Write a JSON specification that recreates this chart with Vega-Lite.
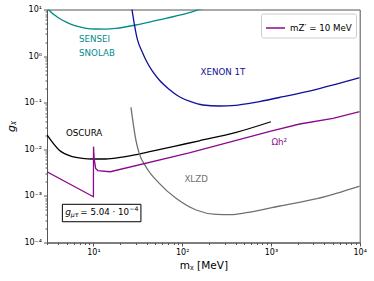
{
  "$schema": "https://vega.github.io/schema/vega-lite/v6.json",
  "width": 312.7,
  "height": 233,
  "autosize": {"type": "none"},
  "padding": {"left": 47, "top": 9.5, "right": 14.3, "bottom": 38.5},
  "config": {
    "view": {"stroke": "#555555", "strokeWidth": 1},
    "font": "DejaVu Sans",
    "axis": {"grid": false, "domainColor": "#555555", "tickColor": "#555555", "labelColor": "#000000", "titleColor": "#000000", "labelFont": "DejaVu Sans", "titleFont": "DejaVu Sans", "labelFontSize": 8, "titleFontSize": 10.5, "titleFontWeight": "normal", "labelOverlap": false, "labelFlush": false, "labelPadding": 2}
  },
  "datasets": {
    "curves": [
      {"series": "SENSEI", "m": 2.95, "g": 11.2},
      {"series": "SENSEI", "m": 3.1, "g": 10},
      {"series": "SENSEI", "m": 4.1, "g": 6.47},
      {"series": "SENSEI", "m": 5.0, "g": 5.3},
      {"series": "SENSEI", "m": 6.3, "g": 4.43},
      {"series": "SENSEI", "m": 8.0, "g": 4.0},
      {"series": "SENSEI", "m": 10.6, "g": 3.82},
      {"series": "SENSEI", "m": 13.5, "g": 3.8},
      {"series": "SENSEI", "m": 17.9, "g": 3.94},
      {"series": "SENSEI", "m": 30.1, "g": 4.65},
      {"series": "SENSEI", "m": 45, "g": 5.5},
      {"series": "SENSEI", "m": 65.8, "g": 6.47},
      {"series": "SENSEI", "m": 120, "g": 8.53},
      {"series": "SENSEI", "m": 156, "g": 10},
      {"series": "SENSEI", "m": 180, "g": 10.8},
      {"series": "XENON", "m": 26.8, "g": 12},
      {"series": "XENON", "m": 27.2, "g": 10},
      {"series": "XENON", "m": 28.8, "g": 5.06},
      {"series": "XENON", "m": 31.4, "g": 2.22},
      {"series": "XENON", "m": 35, "g": 1.3},
      {"series": "XENON", "m": 39, "g": 0.824},
      {"series": "XENON", "m": 46, "g": 0.48},
      {"series": "XENON", "m": 55.2, "g": 0.307},
      {"series": "XENON", "m": 70, "g": 0.2},
      {"series": "XENON", "m": 93, "g": 0.1345},
      {"series": "XENON", "m": 125, "g": 0.105},
      {"series": "XENON", "m": 171, "g": 0.0893},
      {"series": "XENON", "m": 263, "g": 0.085},
      {"series": "XENON", "m": 400, "g": 0.088},
      {"series": "XENON", "m": 574, "g": 0.097},
      {"series": "XENON", "m": 745, "g": 0.106},
      {"series": "XENON", "m": 1368, "g": 0.1345},
      {"series": "XENON", "m": 3258, "g": 0.194},
      {"series": "XENON", "m": 10000, "g": 0.344},
      {"series": "OSCURA", "m": 3.0, "g": 0.0203},
      {"series": "OSCURA", "m": 4.1, "g": 0.00966},
      {"series": "OSCURA", "m": 5.8, "g": 0.00694},
      {"series": "OSCURA", "m": 7.5, "g": 0.0064},
      {"series": "OSCURA", "m": 9.7, "g": 0.0062},
      {"series": "OSCURA", "m": 13.8, "g": 0.0062},
      {"series": "OSCURA", "m": 20, "g": 0.0067},
      {"series": "OSCURA", "m": 32.8, "g": 0.0079},
      {"series": "OSCURA", "m": 60, "g": 0.0102},
      {"series": "OSCURA", "m": 110, "g": 0.01315},
      {"series": "OSCURA", "m": 156, "g": 0.01524},
      {"series": "OSCURA", "m": 406, "g": 0.0231},
      {"series": "OSCURA", "m": 1000, "g": 0.039},
      {"series": "Omega", "m": 3.0, "g": 0.0033},
      {"series": "Omega", "m": 10.0, "g": 0.00096},
      {"series": "Omega", "m": 10.03, "g": 0.0114},
      {"series": "Omega", "m": 10.2, "g": 0.0062},
      {"series": "Omega", "m": 10.6, "g": 0.0039},
      {"series": "Omega", "m": 11.2, "g": 0.0035},
      {"series": "Omega", "m": 15.5, "g": 0.0033},
      {"series": "Omega", "m": 120, "g": 0.0084},
      {"series": "Omega", "m": 1000, "g": 0.0246},
      {"series": "Omega", "m": 2109, "g": 0.0349},
      {"series": "Omega", "m": 5010, "g": 0.0463},
      {"series": "Omega", "m": 10000, "g": 0.0641},
      {"series": "XLZD", "m": 26.5, "g": 0.0797},
      {"series": "XLZD", "m": 30.1, "g": 0.0158},
      {"series": "XLZD", "m": 32.8, "g": 0.0082},
      {"series": "XLZD", "m": 39, "g": 0.00423},
      {"series": "XLZD", "m": 55.2, "g": 0.00186},
      {"series": "XLZD", "m": 85.3, "g": 0.000887},
      {"series": "XLZD", "m": 143.5, "g": 0.000498},
      {"series": "XLZD", "m": 241, "g": 0.000403},
      {"series": "XLZD", "m": 350, "g": 0.000398},
      {"series": "XLZD", "m": 527, "g": 0.000436},
      {"series": "XLZD", "m": 1253, "g": 0.000607},
      {"series": "XLZD", "m": 3396, "g": 0.000887},
      {"series": "XLZD", "m": 10000, "g": 0.00163}
    ],
    "labels": [
      {"series": "SENSEI", "m": 6.9, "g": 2.3, "text": "SENSEI"},
      {"series": "SENSEI", "m": 6.9, "g": 1.15, "text": "SNOLAB"},
      {"series": "XENON", "m": 161, "g": 0.463, "text": "XENON 1T"},
      {"series": "OSCURA", "m": 4.9, "g": 0.0227, "text": "OSCURA"},
      {"series": "XLZD", "m": 106, "g": 0.00227, "text": "XLZD"},
      {"series": "Omega", "m": 1012, "g": 0.0146, "text": "Ωh²"}
    ],
    "box": [
      {"m1": 4.47, "m2": 34.3, "g1": 0.00066, "g2": 0.000279, "gc": 0.00043}
    ]
  },
  "encoding": {
    "x": {
      "field": "m", "type": "quantitative",
      "scale": {"type": "log", "domain": [3, 10000], "nice": false},
      "axis": {
        "title": "mᵪ [MeV]",
        "values": [3,4,5,6,7,8,9,10,20,30,40,50,60,70,80,90,100,200,300,400,500,600,700,800,900,1000,2000,3000,4000,5000,6000,7000,8000,9000,10000],
        "labelExpr": "datum.value==10?'10¹':datum.value==100?'10²':datum.value==1000?'10³':datum.value==10000?'10⁴':''",
        "tickSize": {"condition": {"test": "abs(log(datum.value)/LN10 - round(log(datum.value)/LN10)) < 0.001", "value": 3.5}, "value": 2},
        "titlePadding": 4
      }
    },
    "y": {
      "field": "g", "type": "quantitative",
      "scale": {"type": "log", "domain": [0.0001, 10], "nice": false},
      "axis": {
        "title": "gᵪ",
        "titleFontStyle": "italic",
        "titleFontSize": 11,
        "values": [0.0001,0.0002,0.0003,0.0004,0.0005,0.0006,0.0007,0.0008,0.0009,0.001,0.002,0.003,0.004,0.005,0.006,0.007,0.008,0.009,0.01,0.02,0.03,0.04,0.05,0.06,0.07,0.08,0.09,0.1,0.2,0.3,0.4,0.5,0.6,0.7,0.8,0.9,1,2,3,4,5,6,7,8,9,10],
        "labelExpr": "datum.value==10?'10¹':datum.value==1?'10⁰':datum.value==0.1?'10⁻¹':datum.value==0.01?'10⁻²':datum.value==0.001?'10⁻³':datum.value==0.0001?'10⁻⁴':''",
        "tickSize": {"condition": {"test": "abs(log(datum.value)/LN10 - round(log(datum.value)/LN10)) < 0.001", "value": 3.5}, "value": 2},
        "titlePadding": 7
      }
    }
  },
  "layer": [
    {
      "data": {"name": "curves"},
      "transform": [{"filter": "datum.series != 'Omega'"}],
      "mark": {"type": "line", "strokeWidth": 1.3, "clip": true, "interpolate": "monotone"},
      "encoding": {
        "stroke": {
          "field": "series", "type": "nominal",
          "scale": {"domain": ["Omega", "SENSEI", "XENON", "OSCURA", "XLZD"], "range": ["#8a0a8f", "#008b8b", "#10109a", "#000000", "#707070"]},
          "legend": {
            "values": ["Omega"],
            "labelExpr": "'mZ′ = 10 MeV'",
            "title": null,
            "orient": "top-right",
            "offset": 4,
            "symbolType": "stroke",
            "symbolSize": 361,
            "symbolStrokeWidth": 1.5,
            "labelFontSize": 8.7,
            "labelColor": "#000000",
            "fillColor": "#ffffff",
            "strokeColor": "#cccccc",
            "cornerRadius": 2,
            "padding": 4
          }
        }
      }
    },
    {
      "data": {"name": "curves"},
      "transform": [{"filter": "datum.series == 'Omega'"}],
      "mark": {"type": "line", "strokeWidth": 1.3, "clip": true, "interpolate": "linear"},
      "encoding": {
        "stroke": {"field": "series", "type": "nominal"}
      }
    },
    {
      "data": {"name": "labels"},
      "mark": {"type": "text", "align": "left", "baseline": "middle", "fontSize": 8.7},
      "encoding": {
        "text": {"field": "text"},
        "fill": {
          "field": "series", "type": "nominal",
          "scale": {"domain": ["Omega", "SENSEI", "XENON", "OSCURA", "XLZD"], "range": ["#8a0a8f", "#008b8b", "#10109a", "#000000", "#707070"]},
          "legend": null
        }
      }
    },
    {
      "data": {"name": "box"},
      "mark": {"type": "rect", "fill": "#ffffff", "stroke": "#000000", "strokeWidth": 1},
      "encoding": {
        "x": {"field": "m1", "type": "quantitative"},
        "x2": {"field": "m2"},
        "y": {"field": "g1", "type": "quantitative"},
        "y2": {"field": "g2"}
      }
    },
    {
      "data": {"name": "box"},
      "mark": {"type": "text", "align": "left", "baseline": "middle", "fontSize": 9, "fontStyle": "italic", "color": "#000000", "dx": 3, "dy": -1},
      "encoding": {"x": {"field": "m1", "type": "quantitative"}, "y": {"field": "gc", "type": "quantitative"}, "text": {"value": "g"}}
    },
    {
      "data": {"name": "box"},
      "mark": {"type": "text", "align": "left", "baseline": "middle", "fontSize": 6.2, "fontStyle": "italic", "color": "#000000", "dx": 8.5, "dy": 2},
      "encoding": {"x": {"field": "m1", "type": "quantitative"}, "y": {"field": "gc", "type": "quantitative"}, "text": {"value": "μτ"}}
    },
    {
      "data": {"name": "box"},
      "mark": {"type": "text", "align": "left", "baseline": "middle", "fontSize": 8.7, "color": "#000000", "dx": 18, "dy": -1},
      "encoding": {"x": {"field": "m1", "type": "quantitative"}, "y": {"field": "gc", "type": "quantitative"}, "text": {"value": "= 5.04 · 10"}}
    },
    {
      "data": {"name": "box"},
      "mark": {"type": "text", "align": "left", "baseline": "middle", "fontSize": 6.2, "color": "#000000", "dx": 67, "dy": -4},
      "encoding": {"x": {"field": "m1", "type": "quantitative"}, "y": {"field": "gc", "type": "quantitative"}, "text": {"value": "−4"}}
    }
  ]
}
